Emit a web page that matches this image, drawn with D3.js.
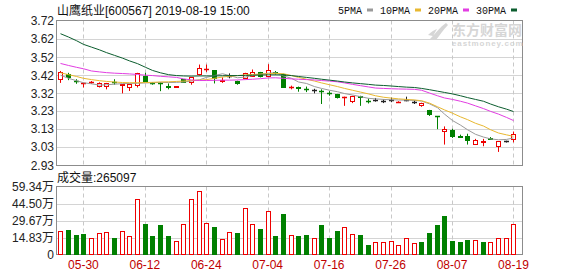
<!DOCTYPE html>
<html lang="zh">
<head>
<meta charset="UTF-8">
<title>山鹰纸业</title>
<script src="https://cdn.jsdelivr.net/npm/d3@7/dist/d3.min.js"></script>
<style>
  body { margin: 0; background: #fff; }
  svg { display: block; font-family: "Liberation Sans", Arial, "Noto Sans CJK SC", sans-serif; }
</style>
</head>
<body>
<div id="chart"></div>
<script>
// 交易日
var dates = ['05-27','05-28','05-29','05-30','05-31','06-03','06-04','06-05','06-06','06-10',
  '06-11','06-12','06-13','06-14','06-17','06-18','06-19','06-20','06-21','06-24',
  '06-25','06-26','06-27','06-28','07-01','07-02','07-03','07-04','07-05','07-08',
  '07-09','07-10','07-11','07-12','07-15','07-16','07-17','07-18','07-19','07-22',
  '07-23','07-24','07-25','07-26','07-29','07-30','07-31','08-01','08-02','08-05',
  '08-06','08-07','08-08','08-09','08-12','08-13','08-14','08-15','08-16','08-19'];

var opens = [3.40,3.43,3.392,3.379,3.383,3.365,3.365,3.387,3.371,3.36,
  3.368,3.417,3.378,3.381,3.361,3.357,3.40,3.386,3.426,3.455,
  3.45,3.393,3.42,3.39,3.408,3.42,3.44,3.417,3.437,3.43,
  3.358,3.36,3.348,3.341,3.336,3.325,3.32,3.301,3.282,3.307,
  3.282,3.287,3.281,3.287,3.277,3.287,3.278,3.259,3.233,3.198,
  3.12,3.125,3.093,3.093,3.049,3.058,3.079,3.034,3.061,3.075];
var closes = [3.44,3.41,3.39,3.381,3.384,3.38,3.377,3.386,3.372,3.374,
  3.435,3.392,3.377,3.38,3.36,3.362,3.384,3.413,3.459,3.458,
  3.405,3.395,3.42,3.377,3.435,3.44,3.417,3.45,3.434,3.355,
  3.36,3.352,3.347,3.341,3.335,3.323,3.305,3.302,3.309,3.303,
  3.281,3.287,3.281,3.287,3.278,3.287,3.278,3.272,3.211,3.197,
  3.13,3.092,3.086,3.071,3.071,3.063,3.074,3.061,3.061,3.102];
var highs = [3.445,3.435,3.40,3.381,3.39,3.383,3.38,3.40,3.372,3.376,
  3.435,3.435,3.385,3.385,3.377,3.363,3.40,3.413,3.48,3.48,
  3.45,3.41,3.432,3.392,3.435,3.453,3.44,3.482,3.445,3.43,
  3.365,3.36,3.36,3.348,3.345,3.335,3.32,3.305,3.31,3.31,
  3.295,3.298,3.29,3.30,3.28,3.305,3.285,3.272,3.233,3.198,
  3.143,3.13,3.098,3.103,3.075,3.075,3.085,3.061,3.065,3.115];
var lows = [3.38,3.395,3.375,3.355,3.375,3.355,3.345,3.37,3.323,3.336,
  3.355,3.392,3.37,3.335,3.345,3.353,3.38,3.37,3.42,3.44,
  3.377,3.38,3.405,3.37,3.40,3.42,3.41,3.415,3.425,3.355,
  3.345,3.332,3.33,3.323,3.265,3.31,3.295,3.255,3.27,3.255,
  3.268,3.278,3.27,3.275,3.276,3.28,3.265,3.25,3.20,3.128,
  3.044,3.08,3.083,3.044,3.045,3.035,3.07,3.004,3.055,3.056];

// 成交量(手)
var volumes = [205000,213000,169000,178000,140000,184000,193000,146000,205000,161000,
  483000,266000,161000,257000,163000,117000,263000,483000,556000,272000,
  240000,134000,193000,184000,404000,263000,222000,380000,161000,354000,
  167000,161000,169000,140000,257000,146000,205000,240000,176000,169000,
  82000,105000,111000,117000,82000,140000,96000,105000,184000,257000,
  336000,117000,105000,126000,126000,105000,105000,140000,140000,265097];
// 量柱颜色 R=涨 G=跌
var volSide = 'RGGGRRRGRRRGGGGRRRRRGRRGRRGRGGRGGRGGGRRGGRRRRRRGGGGGGGRGRRRR';

var ma5 = [3.422,3.405,3.392,3.381,3.375,3.368,3.37,3.373,3.376,3.377,
  3.378,3.38,3.381,3.383,3.382,3.383,3.385,3.39,3.397,3.41,
  3.42,3.43,3.42,3.408,3.412,3.42,3.428,3.433,3.435,3.418,
  3.405,3.385,3.377,3.36,3.35,3.34,3.332,3.322,3.314,3.305,
  3.296,3.293,3.29,3.288,3.287,3.286,3.285,3.281,3.266,3.245,
  3.21,3.175,3.15,3.125,3.10,3.085,3.075,3.07,3.072,3.08];
var ma10 = [3.435,3.425,3.415,3.405,3.398,3.392,3.388,3.385,3.382,3.381,
  3.381,3.382,3.383,3.385,3.386,3.388,3.39,3.393,3.395,3.398,
  3.405,3.412,3.416,3.42,3.424,3.426,3.428,3.43,3.432,3.43,
  3.42,3.41,3.40,3.39,3.38,3.37,3.36,3.35,3.34,3.33,
  3.32,3.31,3.302,3.297,3.293,3.29,3.287,3.283,3.27,3.25,
  3.233,3.215,3.195,3.18,3.16,3.145,3.125,3.107,3.097,3.089];
var ma20 = [3.486,3.475,3.465,3.457,3.445,3.44,3.436,3.433,3.431,3.429,
  3.426,3.422,3.42,3.416,3.413,3.41,3.402,3.396,3.393,3.393,
  3.394,3.395,3.395,3.396,3.398,3.40,3.403,3.407,3.408,3.405,
  3.402,3.40,3.398,3.396,3.393,3.39,3.386,3.38,3.372,3.365,
  3.358,3.352,3.35,3.348,3.347,3.346,3.345,3.34,3.325,3.31,
  3.298,3.29,3.28,3.27,3.255,3.24,3.225,3.21,3.192,3.175];
var ma30 = [3.648,3.63,3.61,3.59,3.575,3.56,3.545,3.53,3.515,3.50,
  3.485,3.465,3.448,3.435,3.425,3.42,3.418,3.417,3.418,3.418,
  3.418,3.419,3.42,3.42,3.421,3.422,3.423,3.424,3.424,3.423,
  3.42,3.415,3.41,3.405,3.40,3.395,3.39,3.385,3.38,3.376,
  3.372,3.368,3.366,3.363,3.36,3.357,3.355,3.35,3.343,3.335,
  3.328,3.32,3.31,3.30,3.29,3.28,3.265,3.25,3.237,3.224];

var dateTicks = ['05-30','06-12','06-24','07-04','07-16','07-26','08-07','08-19'];
var priceTicks = ['2.93','3.03','3.13','3.23','3.32','3.42','3.52','3.62','3.72'];
var volTicks = ['0','14.83万','29.67万','44.50万','59.34万'];
var volMax = 593400;

var W = 578, H = 276;
var L = 56.5, R = 522.5;
var up = '#ee0000', down = '#008000', flat = '#222';

var svg = d3.select('#chart').append('svg').attr('width', W).attr('height', H);

var x = d3.scaleBand().domain(dates).range([L, L + 60 * 7.68]);
var bw = x.bandwidth();
var cx = function(i){ return Math.round(x(dates[i]) + bw / 2) + 0.5; };

var yP = d3.scaleLinear().domain([+priceTicks[0], +priceTicks[8]]).range([165.5, 20.5]);
var yV = d3.scaleLinear().domain([0, volMax]).range([254.5, 186.5]);

// 网格
function grid(top, bottom, n) {
  var g = svg.append('g');
  for (var k = 1; k < n; k++) {
    var yy = Math.round(top + (bottom - top) * k / n) + 0.5;
    g.append('line').attr('x1', L).attr('x2', R).attr('y1', yy).attr('y2', yy)
      .attr('stroke', '#d4d4d4');
  }
  dateTicks.forEach(function(t){
    var xx = cx(dates.indexOf(t));
    g.append('line').attr('x1', xx).attr('x2', xx).attr('y1', top).attr('y2', bottom)
      .attr('stroke', '#c8c8c8').attr('stroke-dasharray', '4,3');
  });
  g.append('rect').attr('x', L).attr('y', top).attr('width', R - L).attr('height', bottom - top)
    .attr('fill', 'none').attr('stroke', '#8c8c8c');
}
grid(20.5, 165.5, 8);
grid(186.5, 254.5, 4);

// 水印
var wm = svg.append('g').attr('fill', '#d6d6d6');
wm.append('path').attr('d', 'M430,39 C436,33 440,27 446,23 L448,25 C443,30 440,35 436,40 Z M428,35 C431,32 434,30 437,29 L433,36 Z');
wm.append('text').attr('x', 452).attr('y', 35).attr('font-size', 14).attr('font-weight', 'bold')
  .attr('font-family', '"Noto Sans CJK SC"').text('东方财富网');
wm.append('text').attr('x', 452).attr('y', 46).attr('font-size', 8).attr('font-weight', 'bold')
  .attr('letter-spacing', 0.9).text('eastmoney.com');

// 左轴
var axP = svg.append('g').attr('transform', 'translate(54,0)')
  .call(d3.axisLeft(yP).tickValues(priceTicks.map(Number)).tickSize(0).tickPadding(0)
    .tickFormat(function(d, i){ return priceTicks[i]; }));
var axV = svg.append('g').attr('transform', 'translate(54,0)')
  .call(d3.axisLeft(yV).tickValues(d3.range(5).map(function(k){ return volMax * k / 4; }))
    .tickSize(0).tickPadding(0).tickFormat(function(d, i){ return volTicks[i]; }));
[axP, axV].forEach(function(a){
  a.select('.domain').remove();
  a.selectAll('text').attr('font-size', 12).attr('fill', '#222')
    .attr('font-family', '"Liberation Sans", "Noto Sans CJK SC", sans-serif');
});

// 日期轴
var axX = svg.append('g').attr('transform', 'translate(0,256)')
  .call(d3.axisBottom(x).tickValues(dateTicks).tickSize(0).tickPadding(0));
axX.select('.domain').remove();
axX.selectAll('text').attr('font-size', 12).attr('fill', '#c00000').attr('dy', 13)
  .attr('font-family', '"Liberation Sans", sans-serif');

// K线
var idx = d3.range(dates.length);
function col(i){ return closes[i] > opens[i] ? up : (closes[i] < opens[i] ? down : flat); }
var k = svg.append('g');
idx.forEach(function(i){
  var c = col(i), xx = cx(i);
  var top = Math.round(yP(Math.max(opens[i], closes[i]))) + 0.5;
  var bot = Math.round(yP(Math.min(opens[i], closes[i]))) + 0.5;
  var hi = yP(highs[i]), lo = yP(lows[i]);
  k.append('line').attr('x1', xx).attr('x2', xx).attr('y1', hi).attr('y2', top).attr('stroke', c);
  k.append('line').attr('x1', xx).attr('x2', xx).attr('y1', bot).attr('y2', lo).attr('stroke', c);
  if (bot - top < 1) {
    k.append('line').attr('x1', xx - 2.5).attr('x2', xx + 2.5).attr('y1', top).attr('y2', top)
      .attr('stroke', c).attr('stroke-width', 1.5);
  } else {
    k.append('rect').attr('x', xx - 2).attr('y', top).attr('width', 4).attr('height', bot - top)
      .attr('fill', c === up ? '#fff' : c).attr('stroke', c);
  }
});

// 均线
var maList = [[ma5, '#9a9a9a'], [ma10, '#e8b830'], [ma20, '#e23de2'], [ma30, '#0b5d2e']];
var line = d3.line().x(function(d, i){ return cx(i); }).y(function(d){ return yP(d); });
maList.forEach(function(m){
  svg.append('path').datum(m[0]).attr('d', line).attr('fill', 'none')
    .attr('stroke', m[1]).attr('stroke-width', 1);
});

// 成交量
svg.append('g').selectAll('rect').data(volumes).enter().append('rect')
  .attr('x', function(d, i){ return cx(i) - 2; })
  .attr('y', function(d){ return Math.round(yV(d)) + 0.5; })
  .attr('width', 4)
  .attr('height', function(d){ return 254.5 - (Math.round(yV(d)) + 0.5); })
  .attr('fill', function(d, i){ return volSide[i] === 'G' ? down : '#fff'; })
  .attr('stroke', function(d, i){ return volSide[i] === 'G' ? down : up; });

// 标题和图例
svg.append('text').attr('x', 57).attr('y', 15).attr('font-size', 12).attr('fill', '#111')
  .text('山鹰纸业[600567] 2019-08-19 15:00');
svg.append('text').attr('x', 57).attr('y', 182).attr('font-size', 12).attr('fill', '#111')
  .text('成交量:' + volumes[volumes.length - 1]);

var legend = ['5PMA', '10PMA', '20PMA', '30PMA'];
var lx = 338;
legend.forEach(function(t, i){
  svg.append('text').attr('x', lx).attr('y', 14).attr('font-size', 10).attr('fill', '#111')
    .attr('font-family', '"Liberation Mono", monospace').text(t);
  lx += t.length * 6 + 5;
  svg.append('rect').attr('x', lx).attr('y', 8.5).attr('width', 6).attr('height', 3)
    .attr('fill', maList[i][1]);
  lx += 13;
});
</script>
</body>
</html>
